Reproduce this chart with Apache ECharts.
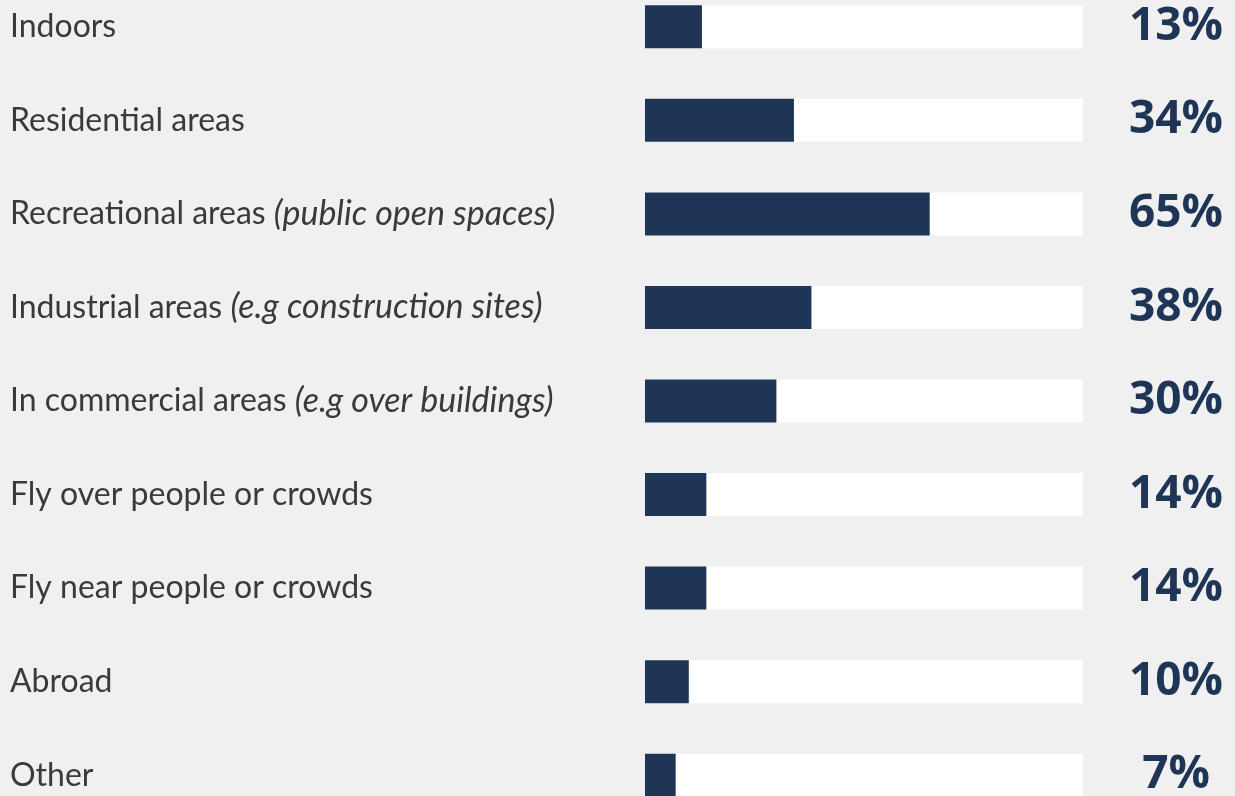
<!DOCTYPE html>
<html>
<head>
<meta charset="utf-8">
<script src="https://cdn.jsdelivr.net/npm/echarts@6/dist/echarts.min.js"></script>
<style>
html,body{margin:0;padding:0;background:#f0f0f0;overflow:hidden;width:1235px;height:796px;}
#c{width:1235px;height:842px;position:absolute;left:0;top:-20px;}
</style>
</head>
<body>
<div id="c"></div>
<script>
const categories = [
  ["Indoors", ""],
  ["Residential areas", ""],
  ["Recreational areas ", "(public open spaces)"],
  ["Industrial areas ", "(e.g construction sites)"],
  ["In commercial areas ", "(e.g over buildings)"],
  ["Fly over people or crowds", ""],
  ["Fly near people or crowds", ""],
  ["Abroad", ""],
  ["Other", ""]
];
const values = [13, 34, 65, 38, 30, 14, 14, 10, 7];
const valueLabels = values.map(v => v + "%");

const chart = echarts.init(document.getElementById('c'));
chart.setOption({
  backgroundColor: '#f0f0f0',
  animation: false,
  grid: {left: 645, right: 152, top: 0, bottom: 0, containLabel: false},
  xAxis: {type: 'value', min: 0, max: 100, show: false},
  yAxis: [
    {
      type: 'category', inverse: true,
      data: categories.map((c, i) => i),
      axisLine: {show: false}, axisTick: {show: false},
      axisLabel: {
        margin: 635, align: 'left',
        formatter: (v) => {
          const c = categories[v];
          return '{n|' + c[0] + '}' + (c[1] ? '{i|' + c[1] + '}' : '');
        },
        rich: {
          n: {fontFamily: 'Lato', fontSize: 32, color: '#3a3a3a'},
          i: {fontFamily: 'Lato', fontSize: 34, fontStyle: 'italic', color: '#3a3a3a'}
        }
      }
    },
    {
      type: 'category', inverse: true, position: 'right',
      data: valueLabels,
      axisLine: {show: false}, axisTick: {show: false},
      axisLabel: {
        margin: 93, align: 'center',
        fontFamily: 'Open Sans', fontWeight: 'bold', fontSize: 46, color: '#1f3556'
      }
    }
  ],
  series: [{
    type: 'bar',
    data: values,
    barWidth: 43,
    itemStyle: {color: '#1f3556'},
    showBackground: true,
    backgroundStyle: {color: '#ffffff'}
  }]
});
</script>
</body>
</html>
